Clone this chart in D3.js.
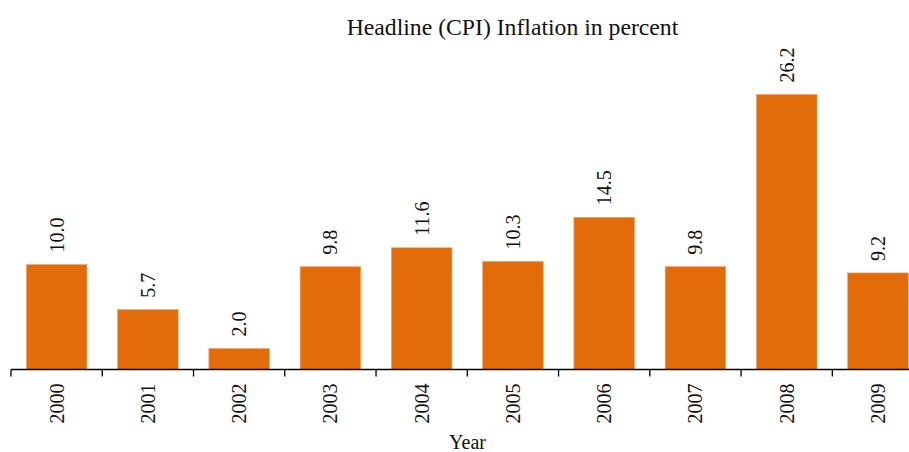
<!DOCTYPE html>
<html>
<head>
<meta charset="utf-8">
<script src="https://cdn.jsdelivr.net/npm/d3@7"></script>
<style>
  body { margin: 0; background: #fff; }
  svg { display: block; }
  text { font-family: "Liberation Serif", "Times New Roman", serif; fill: #111; }
</style>
</head>
<body>
<div id="chart"></div>
<script>
var years = ["2000","2001","2002","2003","2004","2005","2006","2007","2008","2009"];
var inflation = [10.0, 5.7, 2.0, 9.8, 11.6, 10.3, 14.5, 9.8, 26.2, 9.2];
var title = "Headline (CPI) Inflation in percent";
var xTitle = "Year";

var data = years.map(function(y, i){ return {year: y, value: inflation[i]} });

var width = 909, height = 452;
var svg = d3.select("#chart").append("svg")
            .attr("width", width)
            .attr("height", height);

// the plot runs past the right edge, like the original
var x = d3.scaleBand().domain(years).range([11, 923.6]).padding(0);
var y = d3.scaleLinear().domain([0, 26.2]).range([369.5, 94.5]);
var barW = x.bandwidth() * 0.664;
var inset = (x.bandwidth() - barW) / 2;

svg.selectAll("rect.bar")
   .data(data)
   .enter()
   .append("rect")
   .attr("class", "bar")
   .attr("x", function(d){ return x(d.year) + inset })
   .attr("y", function(d){ return y(d.value) })
   .attr("width", barW)
   .attr("height", function(d){ return y(0) - y(d.value) })
   .attr("fill", "#e36c0a")
   .attr("stroke", "#f2a36a")
   .attr("stroke-width", 0.6);

svg.selectAll("text.val")
   .data(data)
   .enter()
   .append("text")
   .attr("class", "val")
   .attr("transform", function(d){
     return "translate(" + (x(d.year) + x.bandwidth()/2) + "," + (y(d.value) - 12) + ") rotate(-90)";
   })
   .attr("dy", "0.35em")
   .attr("font-size", 20)
   .attr("text-anchor", "start")
   .text(function(d){ return d.value.toFixed(1) });

// axis: baseline, ticks at band boundaries, rotated year labels
var axis = svg.append("g").attr("class", "x-axis");
axis.append("line")
    .attr("x1", x.range()[0]).attr("x2", x.range()[1])
    .attr("y1", y(0)).attr("y2", y(0))
    .attr("stroke", "#000").attr("stroke-width", 1.3);

axis.selectAll("line.tick")
    .data(years)
    .enter()
    .append("line")
    .attr("class", "tick")
    .attr("x1", function(d){ return x(d) }).attr("x2", function(d){ return x(d) })
    .attr("y1", y(0)).attr("y2", y(0) + 7)
    .attr("stroke", "#000").attr("stroke-width", 1.3);

axis.selectAll("text")
    .data(years)
    .enter()
    .append("text")
    .attr("transform", function(d){
      return "translate(" + (x(d) + x.bandwidth()/2) + "," + (y(0) + 14) + ") rotate(-90)";
    })
    .attr("dy", "0.35em")
    .attr("font-size", 20)
    .attr("text-anchor", "end")
    .text(function(d){ return d });

svg.append("text")
   .attr("x", 467.5).attr("y", 449)
   .attr("text-anchor", "middle")
   .attr("font-size", 20)
   .text(xTitle);

svg.append("text")
   .attr("x", 512.5).attr("y", 35)
   .attr("text-anchor", "middle")
   .attr("font-size", 23.7)
   .text(title);
</script>
</body>
</html>
